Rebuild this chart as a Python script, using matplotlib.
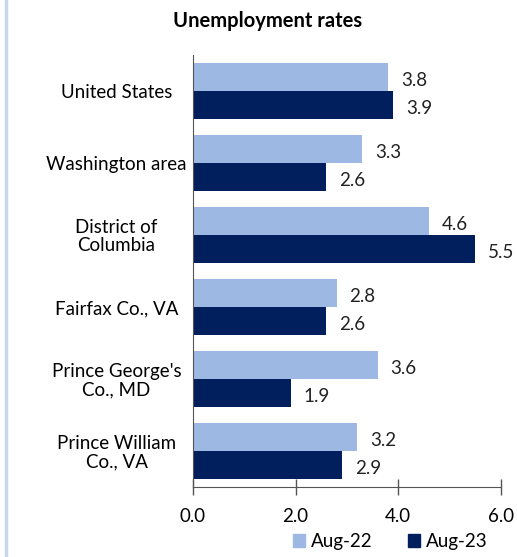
import numpy as np
import matplotlib
matplotlib.use('Agg')
import matplotlib.pyplot as plt
from matplotlib.lines import Line2D
from matplotlib.patches import Patch

regions = ['United States', 'Washington area', 'District of\nColumbia',
           'Fairfax Co., VA', "Prince George's\nCo., MD", 'Prince William\nCo., VA']
aug22 = [3.8, 3.3, 4.6, 2.8, 3.6, 3.2]
aug23 = [3.9, 2.6, 5.5, 2.6, 1.9, 2.9]
xticks = [0.0, 2.0, 4.0, 6.0]

light = '#9DB9E3'
dark = '#001F5C'

plt.rcParams['font.family'] = ['Lato', 'DejaVu Sans']
fs = 13.5

def main():
    fig = plt.figure(figsize=(5.17, 5.57), dpi=100)
    ax = fig.add_axes([0.3733, 0.1257, 0.5957, 0.7756])

    y = np.arange(len(regions))
    h = 0.39
    ax.barh(y - h/2, aug22, height=h, color=light, label='Aug-22')
    ax.barh(y + h/2, aug23, height=h, color=dark, label='Aug-23')

    # value labels
    for yi, v in zip(y, aug22):
        ax.text(v + 0.25, yi - h/2 + 0.05, f'{v:.1f}', va='center', ha='left', fontsize=fs, color='#222222')
    for yi, v in zip(y, aug23):
        ax.text(v + 0.25, yi + h/2 + 0.05, f'{v:.1f}', va='center', ha='left', fontsize=fs, color='#222222')

    ax.set_ylim(len(regions) - 0.5, -0.5)
    ax.set_xlim(0, 6)
    ax.set_yticks(y)
    ax.set_yticklabels(regions, fontsize=fs, ha='center', linespacing=1.05)
    ax.tick_params(axis='y', length=0, pad=55)
    ax.set_xticks(xticks)
    ax.set_xticklabels([f'{t:.1f}' for t in xticks], fontsize=fs)
    ax.tick_params(axis='x', direction='inout', length=12, width=1, color='#555555', pad=9)
    for s in ['top', 'right']:
        ax.spines[s].set_visible(False)
    ax.spines['left'].set_color('#555555')
    ax.spines['bottom'].set_color('#555555')

    fig.text(0.518, 0.962, 'Unemployment rates', ha='center', va='center', fontsize=14.5, fontweight='bold')

    handles = [Patch(color=light), Patch(color=dark)]
    fig.legend(handles, ['Aug-22', 'Aug-23'], loc='center', bbox_to_anchor=(0.755, 0.028), ncol=2,
               frameon=False, fontsize=fs, handlelength=0.65, handleheight=0.65,
               handletextpad=0.3, columnspacing=1.9)

    fig.add_artist(Line2D([0.011, 0.011], [0, 1], color='#C9D7EE', lw=2.5, transform=fig.transFigure))

    fig.savefig('out.png', dpi=100)

if __name__ == '__main__':
    main()
